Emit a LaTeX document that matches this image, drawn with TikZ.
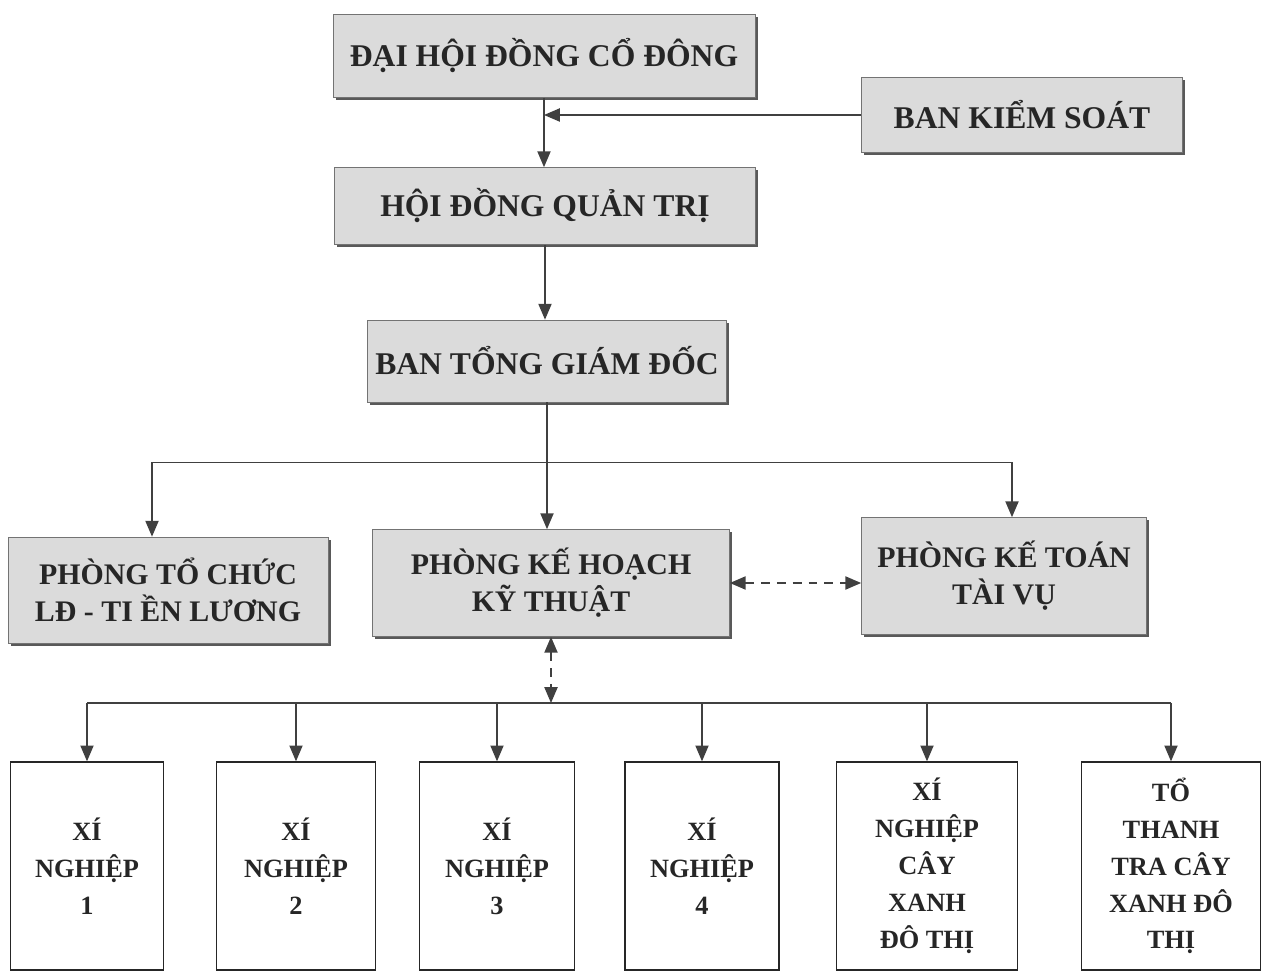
\documentclass[tikz,border=0pt]{standalone}
\usepackage{fontspec}
\setmainfont{Liberation Serif}
\usetikzlibrary{arrows.meta,shadows}

\tikzset{
  head/.style={draw=black!55, fill=gray!28, text=black!85, align=center, inner sep=0pt,
    font=\bfseries\fontsize{18}{22}\selectfont,
    drop shadow={shadow xshift=1.6pt, shadow yshift=-1.6pt, fill=black!65, opacity=1}},
  dept/.style={head, font=\bfseries\fontsize{17}{21}\selectfont},
  unit/.style={draw=black!85, thick, fill=white, text=black!85, align=center, inner sep=0pt,
    minimum height=4.16cm, font=\bfseries\fontsize{15}{21}\selectfont},
  tip/.style={-{Triangle[length=9pt,width=7.5pt]}},
  twoway/.style={dashed, dash pattern=on 5pt off 4pt, {Triangle[length=9pt,width=7.5pt]}-{Triangle[length=9pt,width=7.5pt]}}
}

\begin{document}
\begin{tikzpicture}[x=0.02cm,y=-0.02cm]
		\useasboundingbox (0,0) rectangle (1269,976);
		%
		\node[head, minimum width=8.44cm, minimum height=1.66cm] (DHDCD) at (544,56) {ĐẠI HỘI ĐỒNG CỔ ĐÔNG};
		\node[head, minimum width=6.42cm, minimum height=1.5cm] (BKS) at (1022,115) {BAN KIỂM SOÁT};
		\node[head, minimum width=8.42cm, minimum height=1.54cm] (HDQT) at (545,206) {HỘI ĐỒNG QUẢN TRỊ};
		\node[head, minimum width=7.18cm, minimum height=1.64cm] (BTGD) at (547,361) {BAN TỔNG GIÁM ĐỐC};
		%
		\node[dept, minimum width=6.4cm, minimum height=2.12cm] (PTC) at (168,590) {PHÒNG TỔ CHỨC\\LĐ - TI ỀN LƯƠNG};
		\node[dept, minimum width=7.14cm, minimum height=2.14cm] (PKH) at (551,583) {PHÒNG KẾ HOẠCH\\KỸ THUẬT};
		\node[dept, minimum width=5.7cm, minimum height=2.34cm] (PKT) at (1004,576) {PHÒNG KẾ TOÁN\\TÀI VỤ};
		%
		\node[unit, minimum width=3.06cm] (XN1) at (87,866) {XÍ\\NGHIỆP\\1};
		\node[unit, minimum width=3.18cm] (XN2) at (296,866) {XÍ\\NGHIỆP\\2};
		\node[unit, minimum width=3.1cm] (XN3) at (497,866) {XÍ\\NGHIỆP\\3};
		\node[unit, minimum width=3.08cm] (XN4) at (702,866) {XÍ\\NGHIỆP\\4};
		\node[unit, minimum width=3.62cm] (XNCX) at (927,866) {XÍ\\NGHIỆP\\CÂY\\XANH\\ĐÔ THỊ};
		\node[unit, minimum width=3.58cm] (TTT) at (1171,866) {TỔ\\THANH\\TRA CÂY\\XANH ĐÔ\\THỊ};
		%
		\path (BTGD.south) ++(0,60) coordinate (split);
		\coordinate (bus) at (555,703);
		%
		\begin{scope}[draw=black!75, thick]
		\draw[tip] (DHDCD.south) -- (DHDCD.south |- HDQT.north);
		\draw[tip] (BKS.west) -- (BKS.west -| DHDCD.south);
		\draw[tip] (HDQT.south) -- (HDQT.south |- BTGD.north);
		\draw (BTGD.south) -- (split);
		\draw[tip] (split) -| ([xshift=-0.32cm]PTC.north);
		\draw[tip] (split) -| ([xshift=0.16cm]PKT.north);
		\draw[tip] (split) -- (split |- PKH.north);
		\draw[twoway] (PKH.east) -- (PKH.east -| PKT.west);
		\draw[twoway] (PKH.south) -- (PKH.south |- bus);
		\draw (XN1.north |- bus) -- (TTT.north |- bus);
		\foreach \u in {XN1,XN2,XN3,XN4,XNCX,TTT}
			\draw[tip] (\u.north |- bus) -- (\u.north);
		\end{scope}
		\end{tikzpicture}
\end{document}
